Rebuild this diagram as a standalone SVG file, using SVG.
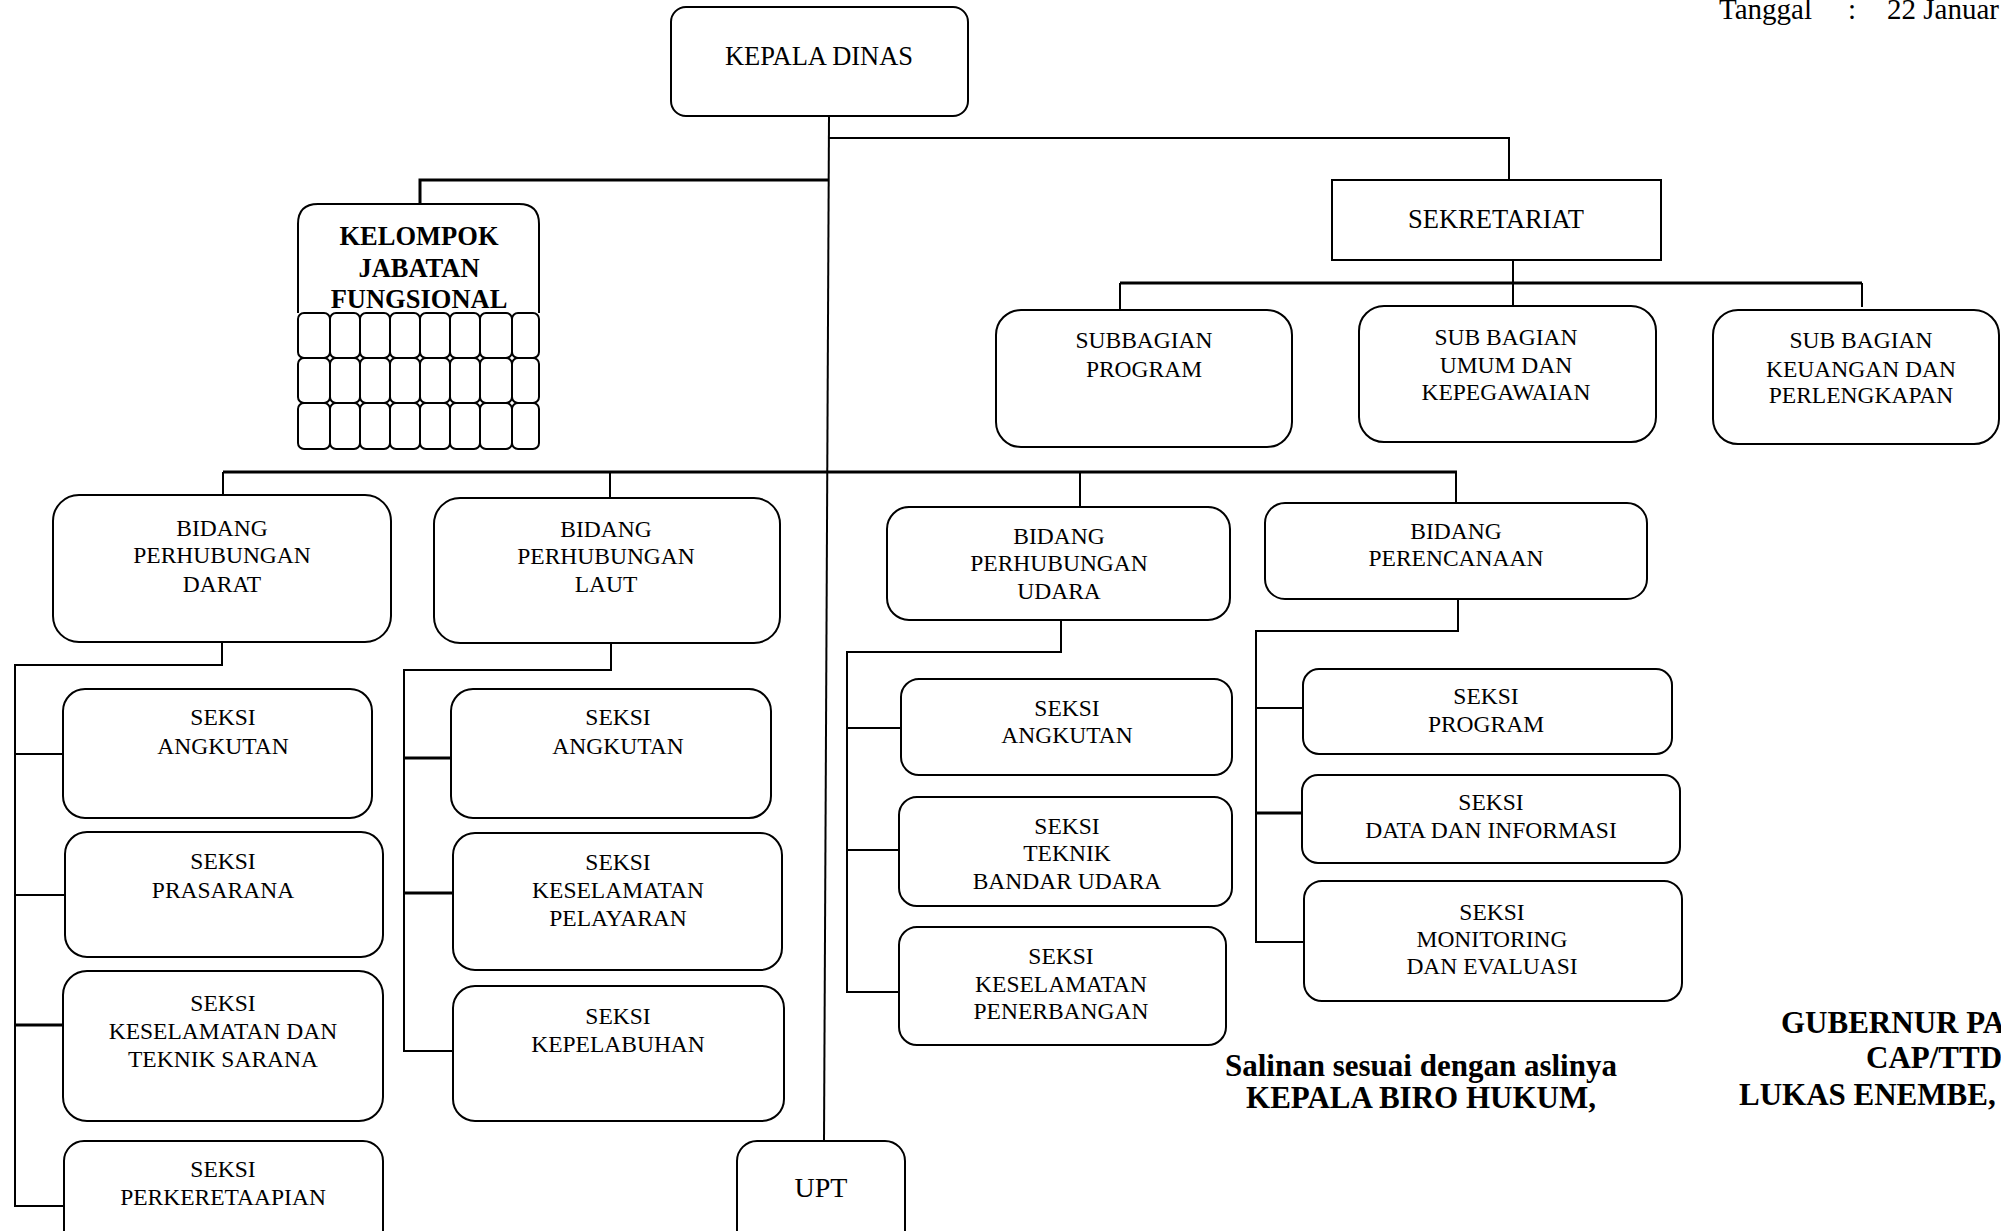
<svg xmlns="http://www.w3.org/2000/svg" width="2001" height="1231" viewBox="0 0 2001 1231">
<style>
  .bx{fill:#fff;stroke:#000;stroke-width:2}
  .cell{fill:#fff;stroke:#000;stroke-width:2}
  .ln{fill:none;stroke:#000;stroke-width:2}
  .lt{fill:none;stroke:#000;stroke-width:3}
  text{font-family:"Liberation Serif","Times New Roman",serif;fill:#000}
  .t{font-size:23.5px;text-anchor:middle}
  .tl{font-size:26.5px;text-anchor:middle}
  .tb{font-size:26.5px;font-weight:bold;text-anchor:middle}
  .sig{font-size:31px;font-weight:bold}
</style>
<rect width="2001" height="1231" fill="#fff"/>

<g id="connectors">
  <line class="ln" x1="829" y1="116" x2="824" y2="1141"/>
  <polyline class="ln" points="829,138 1509,138 1509,180"/>
  <polyline class="lt" points="828,180 420,180 420,204"/>
  <line class="lt" x1="223" y1="472" x2="1457" y2="472"/>
  <line class="ln" x1="223" y1="472" x2="223" y2="495"/>
  <line class="ln" x1="610" y1="472" x2="610" y2="498"/>
  <line class="ln" x1="1080" y1="472" x2="1080" y2="507"/>
  <line class="ln" x1="1456" y1="472" x2="1456" y2="503"/>
  <line class="ln" x1="1513" y1="260" x2="1513" y2="306"/>
  <line class="lt" x1="1120" y1="283" x2="1862" y2="283"/>
  <line class="ln" x1="1120" y1="283" x2="1120" y2="310"/>
  <line class="ln" x1="1862" y1="283" x2="1862" y2="307"/>
  <polyline class="ln" points="222,642 222,665 15,665 15,1206 65,1206"/>
  <line class="ln" x1="15" y1="754" x2="63" y2="754"/>
  <line class="ln" x1="15" y1="895" x2="65" y2="895"/>
  <line class="lt" x1="15" y1="1025" x2="63" y2="1025"/>
  <polyline class="ln" points="611,643 611,670 404,670 404,1051 453,1051"/>
  <line class="lt" x1="404" y1="758" x2="451" y2="758"/>
  <line class="lt" x1="404" y1="893" x2="454" y2="893"/>
  <polyline class="ln" points="1061,620 1061,652 847,652 847,992 899,992"/>
  <line class="ln" x1="847" y1="728" x2="901" y2="728"/>
  <line class="ln" x1="847" y1="850" x2="899" y2="850"/>
  <polyline class="ln" points="1458,599 1458,631 1256,631 1256,942 1304,942"/>
  <line class="ln" x1="1256" y1="708" x2="1303" y2="708"/>
  <line class="lt" x1="1256" y1="813" x2="1305" y2="813"/>
</g>

<g id="kepala-dinas">
  <rect class="bx" x="671" y="7" width="297" height="109" rx="15"/>
  <text class="tl" x="819" y="65">KEPALA DINAS</text>
</g>

<g id="sekretariat">
  <rect class="bx" x="1332" y="180" width="329" height="80"/>
  <text class="tl" x="1496" y="228">SEKRETARIAT</text>
</g>

<g id="kelompok-jabatan-fungsional">
  <path class="bx" d="M298,313 V224 Q298,204 318,204 H519 Q539,204 539,224 V313"/>
  <g>
    <rect class="cell" x="298" y="313" width="32" height="45" rx="6"/>
    <rect class="cell" x="330" y="313" width="30" height="45" rx="6"/>
    <rect class="cell" x="360" y="313" width="30" height="45" rx="6"/>
    <rect class="cell" x="390" y="313" width="30" height="45" rx="6"/>
    <rect class="cell" x="420" y="313" width="30" height="45" rx="6"/>
    <rect class="cell" x="450" y="313" width="30" height="45" rx="6"/>
    <rect class="cell" x="480" y="313" width="32" height="45" rx="6"/>
    <rect class="cell" x="512" y="313" width="27" height="45" rx="6"/>
    <rect class="cell" x="298" y="358" width="32" height="45" rx="6"/>
    <rect class="cell" x="330" y="358" width="30" height="45" rx="6"/>
    <rect class="cell" x="360" y="358" width="30" height="45" rx="6"/>
    <rect class="cell" x="390" y="358" width="30" height="45" rx="6"/>
    <rect class="cell" x="420" y="358" width="30" height="45" rx="6"/>
    <rect class="cell" x="450" y="358" width="30" height="45" rx="6"/>
    <rect class="cell" x="480" y="358" width="32" height="45" rx="6"/>
    <rect class="cell" x="512" y="358" width="27" height="45" rx="6"/>
    <rect class="cell" x="298" y="403" width="32" height="46" rx="6"/>
    <rect class="cell" x="330" y="403" width="30" height="46" rx="6"/>
    <rect class="cell" x="360" y="403" width="30" height="46" rx="6"/>
    <rect class="cell" x="390" y="403" width="30" height="46" rx="6"/>
    <rect class="cell" x="420" y="403" width="30" height="46" rx="6"/>
    <rect class="cell" x="450" y="403" width="30" height="46" rx="6"/>
    <rect class="cell" x="480" y="403" width="32" height="46" rx="6"/>
    <rect class="cell" x="512" y="403" width="27" height="46" rx="6"/>
  </g>
  <text class="tb" x="419" y="245">KELOMPOK</text>
  <text class="tb" x="419" y="277">JABATAN</text>
  <text class="tb" x="419" y="308">FUNGSIONAL</text>
</g>

<g id="subbagian-program">
  <rect class="bx" x="996" y="310" width="296" height="137" rx="25"/>
  <text class="t" x="1144" y="348">SUBBAGIAN</text>
  <text class="t" x="1144" y="377">PROGRAM</text>
</g>

<g id="subbagian-umum">
  <rect class="bx" x="1359" y="306" width="297" height="136" rx="25"/>
  <text class="t" x="1506" y="345">SUB BAGIAN</text>
  <text class="t" x="1506" y="373">UMUM DAN</text>
  <text class="t" x="1506" y="400">KEPEGAWAIAN</text>
</g>

<g id="subbagian-keuangan">
  <rect class="bx" x="1713" y="310" width="286" height="134" rx="25"/>
  <text class="t" x="1861" y="348">SUB BAGIAN</text>
  <text class="t" x="1861" y="377">KEUANGAN DAN</text>
  <text class="t" x="1861" y="403">PERLENGKAPAN</text>
</g>

<g id="bidang-darat">
  <rect class="bx" x="53" y="495" width="338" height="147" rx="26"/>
  <text class="t" x="222" y="536">BIDANG</text>
  <text class="t" x="222" y="563">PERHUBUNGAN</text>
  <text class="t" x="222" y="592">DARAT</text>
</g>

<g id="bidang-laut">
  <rect class="bx" x="434" y="498" width="346" height="145" rx="26"/>
  <text class="t" x="606" y="537">BIDANG</text>
  <text class="t" x="606" y="564">PERHUBUNGAN</text>
  <text class="t" x="606" y="592">LAUT</text>
</g>

<g id="bidang-udara">
  <rect class="bx" x="887" y="507" width="343" height="113" rx="22"/>
  <text class="t" x="1059" y="544">BIDANG</text>
  <text class="t" x="1059" y="571">PERHUBUNGAN</text>
  <text class="t" x="1059" y="599">UDARA</text>
</g>

<g id="bidang-perencanaan">
  <rect class="bx" x="1265" y="503" width="382" height="96" rx="20"/>
  <text class="t" x="1456" y="539">BIDANG</text>
  <text class="t" x="1456" y="566">PERENCANAAN</text>
</g>

<g id="seksi-angkutan-darat">
  <rect class="bx" x="63" y="689" width="309" height="129" rx="22"/>
  <text class="t" x="223" y="725">SEKSI</text>
  <text class="t" x="223" y="754">ANGKUTAN</text>
</g>

<g id="seksi-prasarana">
  <rect class="bx" x="65" y="832" width="318" height="125" rx="22"/>
  <text class="t" x="223" y="869">SEKSI</text>
  <text class="t" x="223" y="898">PRASARANA</text>
</g>

<g id="seksi-keselamatan-teknik-sarana">
  <rect class="bx" x="63" y="971" width="320" height="150" rx="24"/>
  <text class="t" x="223" y="1011">SEKSI</text>
  <text class="t" x="223" y="1039">KESELAMATAN DAN</text>
  <text class="t" x="223" y="1067">TEKNIK SARANA</text>
</g>

<g id="seksi-perkeretaapian">
  <rect class="bx" x="64" y="1141" width="319" height="120" rx="20"/>
  <text class="t" x="223" y="1177">SEKSI</text>
  <text class="t" x="223" y="1205">PERKERETAAPIAN</text>
</g>

<g id="seksi-angkutan-laut">
  <rect class="bx" x="451" y="689" width="320" height="129" rx="22"/>
  <text class="t" x="618" y="725">SEKSI</text>
  <text class="t" x="618" y="754">ANGKUTAN</text>
</g>

<g id="seksi-keselamatan-pelayaran">
  <rect class="bx" x="453" y="833" width="329" height="137" rx="22"/>
  <text class="t" x="618" y="870">SEKSI</text>
  <text class="t" x="618" y="898">KESELAMATAN</text>
  <text class="t" x="618" y="926">PELAYARAN</text>
</g>

<g id="seksi-kepelabuhan">
  <rect class="bx" x="453" y="986" width="331" height="135" rx="22"/>
  <text class="t" x="618" y="1024">SEKSI</text>
  <text class="t" x="618" y="1052">KEPELABUHAN</text>
</g>

<g id="seksi-angkutan-udara">
  <rect class="bx" x="901" y="679" width="331" height="96" rx="18"/>
  <text class="t" x="1067" y="716">SEKSI</text>
  <text class="t" x="1067" y="743">ANGKUTAN</text>
</g>

<g id="seksi-teknik-bandar-udara">
  <rect class="bx" x="899" y="797" width="333" height="109" rx="18"/>
  <text class="t" x="1067" y="834">SEKSI</text>
  <text class="t" x="1067" y="861">TEKNIK</text>
  <text class="t" x="1067" y="889">BANDAR UDARA</text>
</g>

<g id="seksi-keselamatan-penerbangan">
  <rect class="bx" x="899" y="927" width="327" height="118" rx="18"/>
  <text class="t" x="1061" y="964">SEKSI</text>
  <text class="t" x="1061" y="992">KESELAMATAN</text>
  <text class="t" x="1061" y="1019">PENERBANGAN</text>
</g>

<g id="seksi-program">
  <rect class="bx" x="1303" y="669" width="369" height="85" rx="16"/>
  <text class="t" x="1486" y="704">SEKSI</text>
  <text class="t" x="1486" y="732">PROGRAM</text>
</g>

<g id="seksi-data-informasi">
  <rect class="bx" x="1302" y="775" width="378" height="88" rx="16"/>
  <text class="t" x="1491" y="810">SEKSI</text>
  <text class="t" x="1491" y="838">DATA DAN INFORMASI</text>
</g>

<g id="seksi-monitoring-evaluasi">
  <rect class="bx" x="1304" y="881" width="378" height="120" rx="18"/>
  <text class="t" x="1492" y="920">SEKSI</text>
  <text class="t" x="1492" y="947">MONITORING</text>
  <text class="t" x="1492" y="974">DAN EVALUASI</text>
</g>

<g id="upt">
  <rect class="bx" x="737" y="1141" width="168" height="120" rx="20"/>
  <text x="821" y="1197" style="font-size:28px;text-anchor:middle">UPT</text>
</g>

<g id="tanggal">
  <text x="1719" y="19" style="font-size:29px">Tanggal</text>
  <text x="1848" y="19" style="font-size:29px">:</text>
  <text x="1887" y="19" style="font-size:29px">22 Januar</text>
</g>

<g id="salinan">
  <text class="sig" x="1421" y="1076" text-anchor="middle">Salinan sesuai dengan aslinya</text>
  <text class="sig" x="1421" y="1108" text-anchor="middle">KEPALA BIRO HUKUM,</text>
</g>

<g id="gubernur">
  <text class="sig" x="1781" y="1033">GUBERNUR PA</text>
  <text class="sig" x="1866" y="1068">CAP/TTD</text>
  <text class="sig" x="1739" y="1105">LUKAS ENEMBE,</text>
</g>
</svg>
